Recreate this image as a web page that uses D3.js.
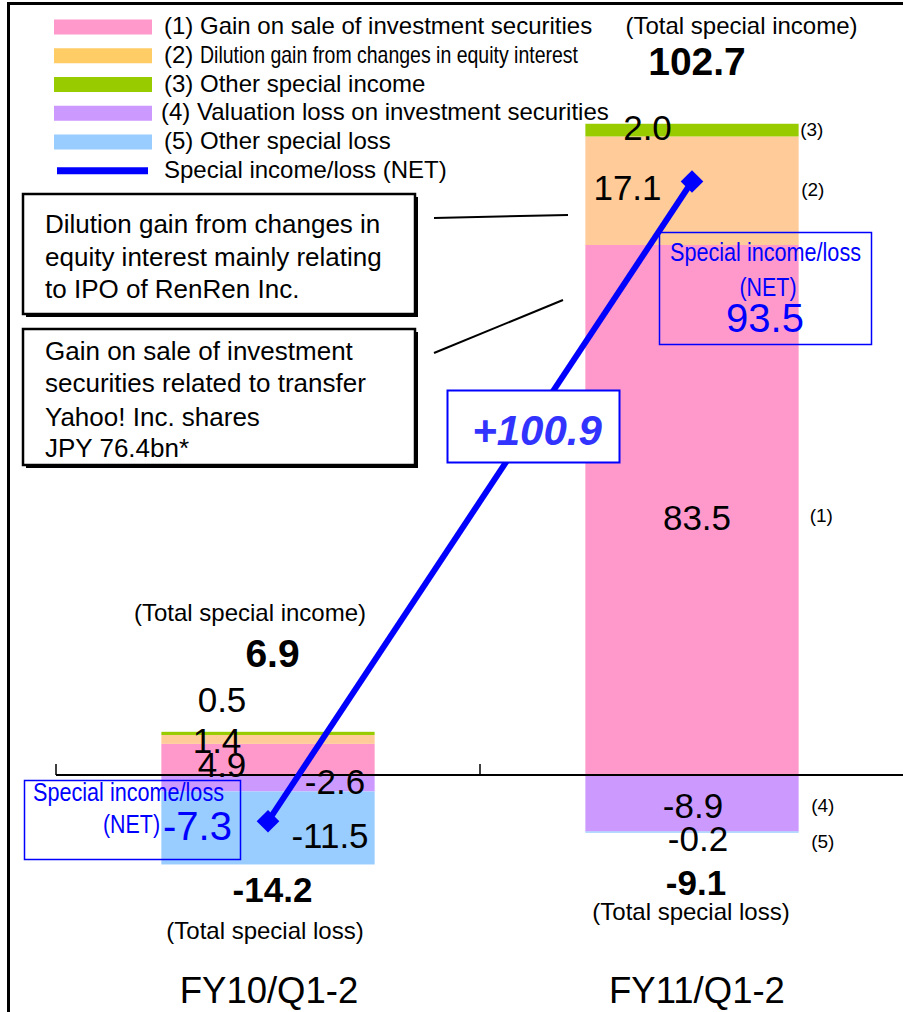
<!DOCTYPE html>
<html><head><meta charset="utf-8">
<script src="https://cdn.jsdelivr.net/npm/d3@7"></script>
<style>body{margin:0;background:#fff} svg{display:block}</style>
</head><body><svg id="c" width="903" height="1012"></svg>
<script>
// ---------- data ----------
const categories = ["FY10/Q1-2", "FY11/Q1-2"];
const gainOnSale = [4.9, 83.5];
const dilutionGain = [1.4, 17.1];
const otherIncome = [0.5, 2.0];
const valuationLoss = [-2.6, -8.9];
const otherLoss = [-11.5, -0.2];
const netIncomeLoss = [-7.3, 93.5];
const totalIncome = [6.9, 102.7];
const totalLoss = [-14.2, -9.1];
const netChangeLabel = "+100.9";
const seriesNames = ["(1) Gain on sale of investment securities", "(2) Dilution gain from changes in equity interest", "(3) Other special income", "(4) Valuation loss on investment securities", "(5) Other special loss", "Special income/loss (NET)"];
const seriesTags = ["(1)", "(2)", "(3)", "(4)", "(5)"];
const note1 = ["Dilution gain from changes in", "equity interest mainly relating", "to IPO of RenRen Inc."];
const note2 = ["Gain on sale of investment", "securities related to transfer", "Yahoo! Inc. shares", "JPY 76.4bn*"];

// ---------- setup ----------
const W = 903, H = 1012;
const F = '"Liberation Sans", Arial, Helvetica, sans-serif';
const colors = ["#FF99CC", "#FFCC99", "#99CC00", "#CC99FF", "#99CCFF"];
const legendColors = ["#FF99CC", "#FFCC66", "#99CC00", "#CC99FF", "#99CCFF"];
const netColor = "#0000FF";
const svg = d3.select("#c");

const x = d3.scaleBand().domain(categories).range([56, 904]);
const y = d3.scaleLinear().domain([-20, 110]).range([901.9, 76.8]);
const bw = x.bandwidth();
const barW = bw * 0.503;
const cx = i => x(categories[i]) + bw / 2;
const fmt = v => v.toFixed(1);

function T(xp, yc, str, size, o = {}) {
  const t = svg.append("text").attr("x", xp).attr("y", yc + 0.358 * size)
    .attr("font-size", size).attr("font-family", F)
    .attr("fill", o.fill || "#000").attr("text-anchor", o.anchor || "start").text(str);
  if (o.bold) t.attr("font-weight", "bold");
  if (o.italic) t.attr("font-style", "italic");
  if (o.len) t.attr("textLength", o.len).attr("lengthAdjust", "spacingAndGlyphs");
  return t;
}

// frame
svg.append("rect").attr("x", 8.5).attr("y", 3.5).attr("width", W).attr("height", H)
  .attr("fill", "none").attr("stroke", "#000").attr("stroke-width", 3);

// ---------- bars ----------
const keys = ["gain", "dil", "oth", "val", "loss"];
const table = categories.map((c, i) => ({ cat: c, gain: gainOnSale[i], dil: dilutionGain[i], oth: otherIncome[i], val: valuationLoss[i], loss: otherLoss[i] }));
const stacked = d3.stack().keys(keys).offset(d3.stackOffsetDiverging)(table);
stacked.forEach((s, k) => {
  svg.append("g").selectAll("rect").data(s).join("rect")
    .attr("x", d => x(d.data.cat) + (bw - barW) / 2)
    .attr("width", barW)
    .attr("y", d => y(Math.max(d[0], d[1])))
    .attr("height", d => Math.abs(y(d[0]) - y(d[1])))
    .attr("fill", colors[k]);
});

// ---------- axis ----------
svg.append("line").attr("x1", x.range()[0]).attr("x2", W).attr("y1", y(0)).attr("y2", y(0))
  .attr("stroke", "#000").attr("stroke-width", 2);
categories.forEach(c => svg.append("line").attr("x1", x(c)).attr("x2", x(c))
  .attr("y1", y(0)).attr("y2", y(0) - 11).attr("stroke", "#000").attr("stroke-width", 1.5));
categories.forEach((c, i) => T(cx(i) + (i ? 5 : 1), 990, c, 36.5, { anchor: "middle" }));

// ---------- legend ----------
const legY = i => 27 + i * 28.75;
legendColors.forEach((c, i) => svg.append("rect").attr("x", 54).attr("y", legY(i) - 7.5)
  .attr("width", 98).attr("height", 15).attr("fill", c));
svg.append("line").attr("x1", 57).attr("x2", 148).attr("y1", legY(5)).attr("y2", legY(5))
  .attr("stroke", netColor).attr("stroke-width", 7);
seriesNames.forEach((n, i) => {
  if (i === 1) {
    T(164, legY(i) - 1.5, n.slice(0, 3), 24);
    T(200, legY(i) - 1.5, n.slice(4), 24, { len: 378 });
  } else {
    T(i === 3 ? 161 : 164, legY(i) - 1.5, n, 24);
  }
});

// ---------- note boxes ----------
function noteBox(x0, y0, w, h, lines, lineY) {
  svg.append("rect").attr("x", x0 + 3).attr("y", y0 + 3).attr("width", w).attr("height", h).attr("fill", "#000");
  svg.append("rect").attr("x", x0).attr("y", y0).attr("width", w).attr("height", h)
    .attr("fill", "#fff").attr("stroke", "#000").attr("stroke-width", 2.5);
  lines.forEach((l, k) => T(x0 + 22, lineY[k], l, 26));
}
noteBox(23, 194, 392, 120, note1, [224, 257, 289]);
noteBox(23, 329, 392, 136, note2, [351, 383, 417, 448]);
svg.append("line").attr("x1", 434).attr("y1", 218).attr("x2", 568).attr("y2", 215).attr("stroke", "#000").attr("stroke-width", 2);
svg.append("line").attr("x1", 434).attr("y1", 353).attr("x2", 563).attr("y2", 300).attr("stroke", "#000").attr("stroke-width", 2);

// ---------- net line ----------
const netPts = netIncomeLoss.map((v, i) => [cx(i), y(v)]);
svg.append("path").attr("d", d3.line()(netPts)).attr("stroke", netColor).attr("stroke-width", 6).attr("fill", "none");
svg.append("g").selectAll("path").data(netPts).join("path")
  .attr("d", d3.symbol(d3.symbolSquare, 256))
  .attr("transform", d => `translate(${d[0]},${d[1]}) rotate(45)`).attr("fill", netColor);

// change box
svg.append("rect").attr("x", 447.5).attr("y", 390.5).attr("width", 172).attr("height", 72)
  .attr("fill", "#fff").attr("stroke", netColor).attr("stroke-width", 2);
T(537, 430, netChangeLabel, 42, { anchor: "middle", bold: true, italic: true, fill: "#3333FF" });

// ---------- value labels: FY10 ----------
T(cx(0) - 18, y(totalIncome[0]) - 119, "(Total special income)", 24, { anchor: "middle" });
T(cx(0) + 4.5, y(totalIncome[0]) - 78, fmt(totalIncome[0]), 39, { anchor: "middle", bold: true });
T(cx(0) - 46, y(totalIncome[0]) - 32, fmt(otherIncome[0]), 35, { anchor: "middle" });
T(cx(0) - 51, y(totalIncome[0]) + 9, fmt(dilutionGain[0]), 35, { anchor: "middle" });
T(cx(0) - 46, y(totalIncome[0]) + 33, fmt(gainOnSale[0]), 35, { anchor: "middle" });
T(cx(0) + 67, y(0) + 7, fmt(valuationLoss[0]), 35, { anchor: "middle" });
T(cx(0) + 62, y(totalLoss[0]) - 30, fmt(otherLoss[0]), 35, { anchor: "middle" });
T(cx(0) + 4.5, y(totalLoss[0]) + 24, fmt(totalLoss[0]), 35, { anchor: "middle", bold: true });
T(cx(0) - 3, y(totalLoss[0]) + 65, "(Total special loss)", 24, { anchor: "middle" });

// ---------- value labels: FY11 ----------
const rEdge = x(categories[1]) + (bw + barW) / 2;
T(cx(1) + 49.5, y(totalIncome[1]) - 98, "(Total special income)", 24, { anchor: "middle" });
T(cx(1) + 5, y(totalIncome[1]) - 62, fmt(totalIncome[1]), 39, { anchor: "middle", bold: true });
T(cx(1) - 44.5, y(totalIncome[1]) + 4.5, fmt(otherIncome[1]), 35, { anchor: "middle" });
T(cx(1) - 64.5, y(gainOnSale[1] + dilutionGain[1]) + 51, fmt(dilutionGain[1]), 35, { anchor: "middle" });
T(cx(1) + 5, y(gainOnSale[1] / 2) + 7, fmt(gainOnSale[1]), 35, { anchor: "middle" });
T(cx(1) + 1, y(valuationLoss[1] / 2) + 2, fmt(valuationLoss[1]), 35, { anchor: "middle" });
T(cx(1) + 6, y(totalLoss[1]) + 6, fmt(otherLoss[1]), 35, { anchor: "middle" });
T(cx(1) + 4, y(totalLoss[1]) + 49.5, fmt(totalLoss[1]), 35, { anchor: "middle", bold: true });
T(cx(1) - 1, y(totalLoss[1]) + 79, "(Total special loss)", 24, { anchor: "middle" });
// series tags
T(rEdge + 1.5, 129, seriesTags[2], 19);
T(rEdge + 2.5, 189, seriesTags[1], 19);
T(rEdge + 11, 515, seriesTags[0], 19);
T(rEdge + 12.5, 805, seriesTags[3], 19);
T(rEdge + 12.5, 841, seriesTags[4], 19);

// ---------- NET boxes ----------
svg.append("rect").attr("x", 24.5).attr("y", 780.5).attr("width", 216).attr("height", 79)
  .attr("fill", "none").attr("stroke", netColor).attr("stroke-width", 1.5);
T(33, 792, "Special income/loss", 25, { fill: netColor, len: 191 });
T(160, 824, "(NET)", 25, { fill: netColor, anchor: "end", len: 57 });
T(163, 826, fmt(netIncomeLoss[0]), 40, { fill: netColor });

svg.append("rect").attr("x", 659.5).attr("y", 232.5).attr("width", 212).attr("height", 112)
  .attr("fill", "none").attr("stroke", netColor).attr("stroke-width", 1.5);
T(765.5, 252, "Special income/loss", 25, { fill: netColor, anchor: "middle", len: 191 });
T(768, 287, "(NET)", 25, { fill: netColor, anchor: "middle", len: 57 });
T(765, 318, fmt(netIncomeLoss[1]), 40, { fill: netColor, anchor: "middle" });
</script></body></html>
